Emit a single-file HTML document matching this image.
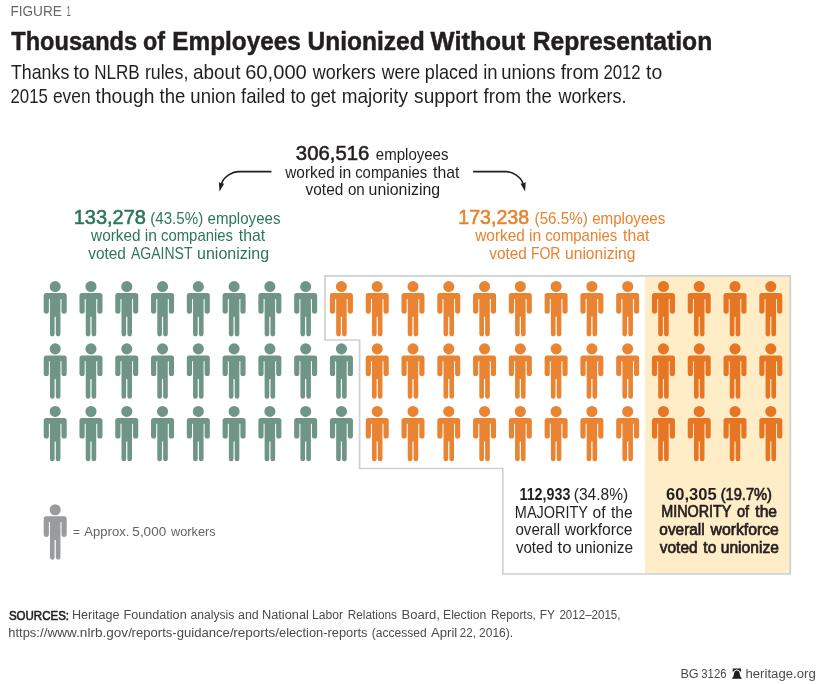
<!DOCTYPE html>
<html lang="en">
<head>
<meta charset="utf-8">
<title>Thousands of Employees Unionized Without Representation</title>
<style>
html,body{margin:0;padding:0;background:#fff;}
body{width:825px;height:684px;overflow:hidden;}
svg{display:block;}
text{font-family:"Liberation Sans", Arial, Helvetica, sans-serif;}
</style>
</head>
<body>
<svg width="825" height="684" viewBox="0 0 825 684">
<rect x="0" y="0" width="825" height="684" fill="#ffffff"/>
<!-- highlight -->
<rect x="645" y="275.8" width="145.3" height="298.2" fill="#ffedc8"/>
<!-- border -->
<path d="M325,275.8 H790.3 V574 H502.8 V468.5 H359.6 V340 H325 Z" fill="none" stroke="#ced0d1" stroke-width="1.7"/>
<!-- arrows -->
<g fill="none" stroke="#231f20" stroke-width="1.7">
<path d="M271.5,171.6 H238.6 C232.5,171.6 224,176.5 221.8,183 L221.4,184.6"/>
<path d="M473.1,171.6 H506 C512.1,171.6 520.6,176.5 522.8,183 L523.2,184.6"/>
</g>
<path d="M219.5,191.4 L218.9,182 L221.6,183.7 L224.2,183.4 Z" fill="#231f20"/>
<path d="M525.1,191.4 L525.7,182 L523,183.7 L520.4,183.4 Z" fill="#231f20"/>
<!-- icons -->
<path fill="#6e9585" d="M46.30,293.10h17.8a2.6,2.6 0 0 1 2.6,2.6v15.4a2.6,2.6 0 0 1-5.2,0v-12.2h-1.05v35.2a2.325,2.325 0 0 1-4.65,0v-17.4h-1.2v17.4a2.325,2.325 0 0 1-4.65,0v-35.2h-1.05v12.2a2.6,2.6 0 0 1-5.2,0v-15.4a2.6,2.6 0 0 1 2.6-2.6zM49.65,286.55a5.55,5.55 0 1 0 11.1,0a5.55,5.55 0 1 0-11.1,0z M82.08,293.10h17.8a2.6,2.6 0 0 1 2.6,2.6v15.4a2.6,2.6 0 0 1-5.2,0v-12.2h-1.05v35.2a2.325,2.325 0 0 1-4.65,0v-17.4h-1.2v17.4a2.325,2.325 0 0 1-4.65,0v-35.2h-1.05v12.2a2.6,2.6 0 0 1-5.2,0v-15.4a2.6,2.6 0 0 1 2.6-2.6zM85.43,286.55a5.55,5.55 0 1 0 11.1,0a5.55,5.55 0 1 0-11.1,0z M117.86,293.10h17.8a2.6,2.6 0 0 1 2.6,2.6v15.4a2.6,2.6 0 0 1-5.2,0v-12.2h-1.05v35.2a2.325,2.325 0 0 1-4.65,0v-17.4h-1.2v17.4a2.325,2.325 0 0 1-4.65,0v-35.2h-1.05v12.2a2.6,2.6 0 0 1-5.2,0v-15.4a2.6,2.6 0 0 1 2.6-2.6zM121.21,286.55a5.55,5.55 0 1 0 11.1,0a5.55,5.55 0 1 0-11.1,0z M153.64,293.10h17.8a2.6,2.6 0 0 1 2.6,2.6v15.4a2.6,2.6 0 0 1-5.2,0v-12.2h-1.05v35.2a2.325,2.325 0 0 1-4.65,0v-17.4h-1.2v17.4a2.325,2.325 0 0 1-4.65,0v-35.2h-1.05v12.2a2.6,2.6 0 0 1-5.2,0v-15.4a2.6,2.6 0 0 1 2.6-2.6zM156.99,286.55a5.55,5.55 0 1 0 11.1,0a5.55,5.55 0 1 0-11.1,0z M189.42,293.10h17.8a2.6,2.6 0 0 1 2.6,2.6v15.4a2.6,2.6 0 0 1-5.2,0v-12.2h-1.05v35.2a2.325,2.325 0 0 1-4.65,0v-17.4h-1.2v17.4a2.325,2.325 0 0 1-4.65,0v-35.2h-1.05v12.2a2.6,2.6 0 0 1-5.2,0v-15.4a2.6,2.6 0 0 1 2.6-2.6zM192.77,286.55a5.55,5.55 0 1 0 11.1,0a5.55,5.55 0 1 0-11.1,0z M225.20,293.10h17.8a2.6,2.6 0 0 1 2.6,2.6v15.4a2.6,2.6 0 0 1-5.2,0v-12.2h-1.05v35.2a2.325,2.325 0 0 1-4.65,0v-17.4h-1.2v17.4a2.325,2.325 0 0 1-4.65,0v-35.2h-1.05v12.2a2.6,2.6 0 0 1-5.2,0v-15.4a2.6,2.6 0 0 1 2.6-2.6zM228.55,286.55a5.55,5.55 0 1 0 11.1,0a5.55,5.55 0 1 0-11.1,0z M260.98,293.10h17.8a2.6,2.6 0 0 1 2.6,2.6v15.4a2.6,2.6 0 0 1-5.2,0v-12.2h-1.05v35.2a2.325,2.325 0 0 1-4.65,0v-17.4h-1.2v17.4a2.325,2.325 0 0 1-4.65,0v-35.2h-1.05v12.2a2.6,2.6 0 0 1-5.2,0v-15.4a2.6,2.6 0 0 1 2.6-2.6zM264.33,286.55a5.55,5.55 0 1 0 11.1,0a5.55,5.55 0 1 0-11.1,0z M296.76,293.10h17.8a2.6,2.6 0 0 1 2.6,2.6v15.4a2.6,2.6 0 0 1-5.2,0v-12.2h-1.05v35.2a2.325,2.325 0 0 1-4.65,0v-17.4h-1.2v17.4a2.325,2.325 0 0 1-4.65,0v-35.2h-1.05v12.2a2.6,2.6 0 0 1-5.2,0v-15.4a2.6,2.6 0 0 1 2.6-2.6zM300.11,286.55a5.55,5.55 0 1 0 11.1,0a5.55,5.55 0 1 0-11.1,0z M46.30,355.40h17.8a2.6,2.6 0 0 1 2.6,2.6v15.4a2.6,2.6 0 0 1-5.2,0v-12.2h-1.05v35.2a2.325,2.325 0 0 1-4.65,0v-17.4h-1.2v17.4a2.325,2.325 0 0 1-4.65,0v-35.2h-1.05v12.2a2.6,2.6 0 0 1-5.2,0v-15.4a2.6,2.6 0 0 1 2.6-2.6zM49.65,348.85a5.55,5.55 0 1 0 11.1,0a5.55,5.55 0 1 0-11.1,0z M82.08,355.40h17.8a2.6,2.6 0 0 1 2.6,2.6v15.4a2.6,2.6 0 0 1-5.2,0v-12.2h-1.05v35.2a2.325,2.325 0 0 1-4.65,0v-17.4h-1.2v17.4a2.325,2.325 0 0 1-4.65,0v-35.2h-1.05v12.2a2.6,2.6 0 0 1-5.2,0v-15.4a2.6,2.6 0 0 1 2.6-2.6zM85.43,348.85a5.55,5.55 0 1 0 11.1,0a5.55,5.55 0 1 0-11.1,0z M117.86,355.40h17.8a2.6,2.6 0 0 1 2.6,2.6v15.4a2.6,2.6 0 0 1-5.2,0v-12.2h-1.05v35.2a2.325,2.325 0 0 1-4.65,0v-17.4h-1.2v17.4a2.325,2.325 0 0 1-4.65,0v-35.2h-1.05v12.2a2.6,2.6 0 0 1-5.2,0v-15.4a2.6,2.6 0 0 1 2.6-2.6zM121.21,348.85a5.55,5.55 0 1 0 11.1,0a5.55,5.55 0 1 0-11.1,0z M153.64,355.40h17.8a2.6,2.6 0 0 1 2.6,2.6v15.4a2.6,2.6 0 0 1-5.2,0v-12.2h-1.05v35.2a2.325,2.325 0 0 1-4.65,0v-17.4h-1.2v17.4a2.325,2.325 0 0 1-4.65,0v-35.2h-1.05v12.2a2.6,2.6 0 0 1-5.2,0v-15.4a2.6,2.6 0 0 1 2.6-2.6zM156.99,348.85a5.55,5.55 0 1 0 11.1,0a5.55,5.55 0 1 0-11.1,0z M189.42,355.40h17.8a2.6,2.6 0 0 1 2.6,2.6v15.4a2.6,2.6 0 0 1-5.2,0v-12.2h-1.05v35.2a2.325,2.325 0 0 1-4.65,0v-17.4h-1.2v17.4a2.325,2.325 0 0 1-4.65,0v-35.2h-1.05v12.2a2.6,2.6 0 0 1-5.2,0v-15.4a2.6,2.6 0 0 1 2.6-2.6zM192.77,348.85a5.55,5.55 0 1 0 11.1,0a5.55,5.55 0 1 0-11.1,0z M225.20,355.40h17.8a2.6,2.6 0 0 1 2.6,2.6v15.4a2.6,2.6 0 0 1-5.2,0v-12.2h-1.05v35.2a2.325,2.325 0 0 1-4.65,0v-17.4h-1.2v17.4a2.325,2.325 0 0 1-4.65,0v-35.2h-1.05v12.2a2.6,2.6 0 0 1-5.2,0v-15.4a2.6,2.6 0 0 1 2.6-2.6zM228.55,348.85a5.55,5.55 0 1 0 11.1,0a5.55,5.55 0 1 0-11.1,0z M260.98,355.40h17.8a2.6,2.6 0 0 1 2.6,2.6v15.4a2.6,2.6 0 0 1-5.2,0v-12.2h-1.05v35.2a2.325,2.325 0 0 1-4.65,0v-17.4h-1.2v17.4a2.325,2.325 0 0 1-4.65,0v-35.2h-1.05v12.2a2.6,2.6 0 0 1-5.2,0v-15.4a2.6,2.6 0 0 1 2.6-2.6zM264.33,348.85a5.55,5.55 0 1 0 11.1,0a5.55,5.55 0 1 0-11.1,0z M296.76,355.40h17.8a2.6,2.6 0 0 1 2.6,2.6v15.4a2.6,2.6 0 0 1-5.2,0v-12.2h-1.05v35.2a2.325,2.325 0 0 1-4.65,0v-17.4h-1.2v17.4a2.325,2.325 0 0 1-4.65,0v-35.2h-1.05v12.2a2.6,2.6 0 0 1-5.2,0v-15.4a2.6,2.6 0 0 1 2.6-2.6zM300.11,348.85a5.55,5.55 0 1 0 11.1,0a5.55,5.55 0 1 0-11.1,0z M332.54,355.40h17.8a2.6,2.6 0 0 1 2.6,2.6v15.4a2.6,2.6 0 0 1-5.2,0v-12.2h-1.05v35.2a2.325,2.325 0 0 1-4.65,0v-17.4h-1.2v17.4a2.325,2.325 0 0 1-4.65,0v-35.2h-1.05v12.2a2.6,2.6 0 0 1-5.2,0v-15.4a2.6,2.6 0 0 1 2.6-2.6zM335.89,348.85a5.55,5.55 0 1 0 11.1,0a5.55,5.55 0 1 0-11.1,0z M46.30,418.00h17.8a2.6,2.6 0 0 1 2.6,2.6v15.4a2.6,2.6 0 0 1-5.2,0v-12.2h-1.05v35.2a2.325,2.325 0 0 1-4.65,0v-17.4h-1.2v17.4a2.325,2.325 0 0 1-4.65,0v-35.2h-1.05v12.2a2.6,2.6 0 0 1-5.2,0v-15.4a2.6,2.6 0 0 1 2.6-2.6zM49.65,411.45a5.55,5.55 0 1 0 11.1,0a5.55,5.55 0 1 0-11.1,0z M82.08,418.00h17.8a2.6,2.6 0 0 1 2.6,2.6v15.4a2.6,2.6 0 0 1-5.2,0v-12.2h-1.05v35.2a2.325,2.325 0 0 1-4.65,0v-17.4h-1.2v17.4a2.325,2.325 0 0 1-4.65,0v-35.2h-1.05v12.2a2.6,2.6 0 0 1-5.2,0v-15.4a2.6,2.6 0 0 1 2.6-2.6zM85.43,411.45a5.55,5.55 0 1 0 11.1,0a5.55,5.55 0 1 0-11.1,0z M117.86,418.00h17.8a2.6,2.6 0 0 1 2.6,2.6v15.4a2.6,2.6 0 0 1-5.2,0v-12.2h-1.05v35.2a2.325,2.325 0 0 1-4.65,0v-17.4h-1.2v17.4a2.325,2.325 0 0 1-4.65,0v-35.2h-1.05v12.2a2.6,2.6 0 0 1-5.2,0v-15.4a2.6,2.6 0 0 1 2.6-2.6zM121.21,411.45a5.55,5.55 0 1 0 11.1,0a5.55,5.55 0 1 0-11.1,0z M153.64,418.00h17.8a2.6,2.6 0 0 1 2.6,2.6v15.4a2.6,2.6 0 0 1-5.2,0v-12.2h-1.05v35.2a2.325,2.325 0 0 1-4.65,0v-17.4h-1.2v17.4a2.325,2.325 0 0 1-4.65,0v-35.2h-1.05v12.2a2.6,2.6 0 0 1-5.2,0v-15.4a2.6,2.6 0 0 1 2.6-2.6zM156.99,411.45a5.55,5.55 0 1 0 11.1,0a5.55,5.55 0 1 0-11.1,0z M189.42,418.00h17.8a2.6,2.6 0 0 1 2.6,2.6v15.4a2.6,2.6 0 0 1-5.2,0v-12.2h-1.05v35.2a2.325,2.325 0 0 1-4.65,0v-17.4h-1.2v17.4a2.325,2.325 0 0 1-4.65,0v-35.2h-1.05v12.2a2.6,2.6 0 0 1-5.2,0v-15.4a2.6,2.6 0 0 1 2.6-2.6zM192.77,411.45a5.55,5.55 0 1 0 11.1,0a5.55,5.55 0 1 0-11.1,0z M225.20,418.00h17.8a2.6,2.6 0 0 1 2.6,2.6v15.4a2.6,2.6 0 0 1-5.2,0v-12.2h-1.05v35.2a2.325,2.325 0 0 1-4.65,0v-17.4h-1.2v17.4a2.325,2.325 0 0 1-4.65,0v-35.2h-1.05v12.2a2.6,2.6 0 0 1-5.2,0v-15.4a2.6,2.6 0 0 1 2.6-2.6zM228.55,411.45a5.55,5.55 0 1 0 11.1,0a5.55,5.55 0 1 0-11.1,0z M260.98,418.00h17.8a2.6,2.6 0 0 1 2.6,2.6v15.4a2.6,2.6 0 0 1-5.2,0v-12.2h-1.05v35.2a2.325,2.325 0 0 1-4.65,0v-17.4h-1.2v17.4a2.325,2.325 0 0 1-4.65,0v-35.2h-1.05v12.2a2.6,2.6 0 0 1-5.2,0v-15.4a2.6,2.6 0 0 1 2.6-2.6zM264.33,411.45a5.55,5.55 0 1 0 11.1,0a5.55,5.55 0 1 0-11.1,0z M296.76,418.00h17.8a2.6,2.6 0 0 1 2.6,2.6v15.4a2.6,2.6 0 0 1-5.2,0v-12.2h-1.05v35.2a2.325,2.325 0 0 1-4.65,0v-17.4h-1.2v17.4a2.325,2.325 0 0 1-4.65,0v-35.2h-1.05v12.2a2.6,2.6 0 0 1-5.2,0v-15.4a2.6,2.6 0 0 1 2.6-2.6zM300.11,411.45a5.55,5.55 0 1 0 11.1,0a5.55,5.55 0 1 0-11.1,0z M332.54,418.00h17.8a2.6,2.6 0 0 1 2.6,2.6v15.4a2.6,2.6 0 0 1-5.2,0v-12.2h-1.05v35.2a2.325,2.325 0 0 1-4.65,0v-17.4h-1.2v17.4a2.325,2.325 0 0 1-4.65,0v-35.2h-1.05v12.2a2.6,2.6 0 0 1-5.2,0v-15.4a2.6,2.6 0 0 1 2.6-2.6zM335.89,411.45a5.55,5.55 0 1 0 11.1,0a5.55,5.55 0 1 0-11.1,0z"/>
<path fill="#e98433" d="M332.54,293.10h17.8a2.6,2.6 0 0 1 2.6,2.6v15.4a2.6,2.6 0 0 1-5.2,0v-12.2h-1.05v35.2a2.325,2.325 0 0 1-4.65,0v-17.4h-1.2v17.4a2.325,2.325 0 0 1-4.65,0v-35.2h-1.05v12.2a2.6,2.6 0 0 1-5.2,0v-15.4a2.6,2.6 0 0 1 2.6-2.6zM335.89,286.55a5.55,5.55 0 1 0 11.1,0a5.55,5.55 0 1 0-11.1,0z M368.32,293.10h17.8a2.6,2.6 0 0 1 2.6,2.6v15.4a2.6,2.6 0 0 1-5.2,0v-12.2h-1.05v35.2a2.325,2.325 0 0 1-4.65,0v-17.4h-1.2v17.4a2.325,2.325 0 0 1-4.65,0v-35.2h-1.05v12.2a2.6,2.6 0 0 1-5.2,0v-15.4a2.6,2.6 0 0 1 2.6-2.6zM371.67,286.55a5.55,5.55 0 1 0 11.1,0a5.55,5.55 0 1 0-11.1,0z M404.10,293.10h17.8a2.6,2.6 0 0 1 2.6,2.6v15.4a2.6,2.6 0 0 1-5.2,0v-12.2h-1.05v35.2a2.325,2.325 0 0 1-4.65,0v-17.4h-1.2v17.4a2.325,2.325 0 0 1-4.65,0v-35.2h-1.05v12.2a2.6,2.6 0 0 1-5.2,0v-15.4a2.6,2.6 0 0 1 2.6-2.6zM407.45,286.55a5.55,5.55 0 1 0 11.1,0a5.55,5.55 0 1 0-11.1,0z M439.88,293.10h17.8a2.6,2.6 0 0 1 2.6,2.6v15.4a2.6,2.6 0 0 1-5.2,0v-12.2h-1.05v35.2a2.325,2.325 0 0 1-4.65,0v-17.4h-1.2v17.4a2.325,2.325 0 0 1-4.65,0v-35.2h-1.05v12.2a2.6,2.6 0 0 1-5.2,0v-15.4a2.6,2.6 0 0 1 2.6-2.6zM443.23,286.55a5.55,5.55 0 1 0 11.1,0a5.55,5.55 0 1 0-11.1,0z M475.66,293.10h17.8a2.6,2.6 0 0 1 2.6,2.6v15.4a2.6,2.6 0 0 1-5.2,0v-12.2h-1.05v35.2a2.325,2.325 0 0 1-4.65,0v-17.4h-1.2v17.4a2.325,2.325 0 0 1-4.65,0v-35.2h-1.05v12.2a2.6,2.6 0 0 1-5.2,0v-15.4a2.6,2.6 0 0 1 2.6-2.6zM479.01,286.55a5.55,5.55 0 1 0 11.1,0a5.55,5.55 0 1 0-11.1,0z M511.44,293.10h17.8a2.6,2.6 0 0 1 2.6,2.6v15.4a2.6,2.6 0 0 1-5.2,0v-12.2h-1.05v35.2a2.325,2.325 0 0 1-4.65,0v-17.4h-1.2v17.4a2.325,2.325 0 0 1-4.65,0v-35.2h-1.05v12.2a2.6,2.6 0 0 1-5.2,0v-15.4a2.6,2.6 0 0 1 2.6-2.6zM514.79,286.55a5.55,5.55 0 1 0 11.1,0a5.55,5.55 0 1 0-11.1,0z M547.22,293.10h17.8a2.6,2.6 0 0 1 2.6,2.6v15.4a2.6,2.6 0 0 1-5.2,0v-12.2h-1.05v35.2a2.325,2.325 0 0 1-4.65,0v-17.4h-1.2v17.4a2.325,2.325 0 0 1-4.65,0v-35.2h-1.05v12.2a2.6,2.6 0 0 1-5.2,0v-15.4a2.6,2.6 0 0 1 2.6-2.6zM550.57,286.55a5.55,5.55 0 1 0 11.1,0a5.55,5.55 0 1 0-11.1,0z M583.00,293.10h17.8a2.6,2.6 0 0 1 2.6,2.6v15.4a2.6,2.6 0 0 1-5.2,0v-12.2h-1.05v35.2a2.325,2.325 0 0 1-4.65,0v-17.4h-1.2v17.4a2.325,2.325 0 0 1-4.65,0v-35.2h-1.05v12.2a2.6,2.6 0 0 1-5.2,0v-15.4a2.6,2.6 0 0 1 2.6-2.6zM586.35,286.55a5.55,5.55 0 1 0 11.1,0a5.55,5.55 0 1 0-11.1,0z M618.78,293.10h17.8a2.6,2.6 0 0 1 2.6,2.6v15.4a2.6,2.6 0 0 1-5.2,0v-12.2h-1.05v35.2a2.325,2.325 0 0 1-4.65,0v-17.4h-1.2v17.4a2.325,2.325 0 0 1-4.65,0v-35.2h-1.05v12.2a2.6,2.6 0 0 1-5.2,0v-15.4a2.6,2.6 0 0 1 2.6-2.6zM622.13,286.55a5.55,5.55 0 1 0 11.1,0a5.55,5.55 0 1 0-11.1,0z M368.32,355.40h17.8a2.6,2.6 0 0 1 2.6,2.6v15.4a2.6,2.6 0 0 1-5.2,0v-12.2h-1.05v35.2a2.325,2.325 0 0 1-4.65,0v-17.4h-1.2v17.4a2.325,2.325 0 0 1-4.65,0v-35.2h-1.05v12.2a2.6,2.6 0 0 1-5.2,0v-15.4a2.6,2.6 0 0 1 2.6-2.6zM371.67,348.85a5.55,5.55 0 1 0 11.1,0a5.55,5.55 0 1 0-11.1,0z M404.10,355.40h17.8a2.6,2.6 0 0 1 2.6,2.6v15.4a2.6,2.6 0 0 1-5.2,0v-12.2h-1.05v35.2a2.325,2.325 0 0 1-4.65,0v-17.4h-1.2v17.4a2.325,2.325 0 0 1-4.65,0v-35.2h-1.05v12.2a2.6,2.6 0 0 1-5.2,0v-15.4a2.6,2.6 0 0 1 2.6-2.6zM407.45,348.85a5.55,5.55 0 1 0 11.1,0a5.55,5.55 0 1 0-11.1,0z M439.88,355.40h17.8a2.6,2.6 0 0 1 2.6,2.6v15.4a2.6,2.6 0 0 1-5.2,0v-12.2h-1.05v35.2a2.325,2.325 0 0 1-4.65,0v-17.4h-1.2v17.4a2.325,2.325 0 0 1-4.65,0v-35.2h-1.05v12.2a2.6,2.6 0 0 1-5.2,0v-15.4a2.6,2.6 0 0 1 2.6-2.6zM443.23,348.85a5.55,5.55 0 1 0 11.1,0a5.55,5.55 0 1 0-11.1,0z M475.66,355.40h17.8a2.6,2.6 0 0 1 2.6,2.6v15.4a2.6,2.6 0 0 1-5.2,0v-12.2h-1.05v35.2a2.325,2.325 0 0 1-4.65,0v-17.4h-1.2v17.4a2.325,2.325 0 0 1-4.65,0v-35.2h-1.05v12.2a2.6,2.6 0 0 1-5.2,0v-15.4a2.6,2.6 0 0 1 2.6-2.6zM479.01,348.85a5.55,5.55 0 1 0 11.1,0a5.55,5.55 0 1 0-11.1,0z M511.44,355.40h17.8a2.6,2.6 0 0 1 2.6,2.6v15.4a2.6,2.6 0 0 1-5.2,0v-12.2h-1.05v35.2a2.325,2.325 0 0 1-4.65,0v-17.4h-1.2v17.4a2.325,2.325 0 0 1-4.65,0v-35.2h-1.05v12.2a2.6,2.6 0 0 1-5.2,0v-15.4a2.6,2.6 0 0 1 2.6-2.6zM514.79,348.85a5.55,5.55 0 1 0 11.1,0a5.55,5.55 0 1 0-11.1,0z M547.22,355.40h17.8a2.6,2.6 0 0 1 2.6,2.6v15.4a2.6,2.6 0 0 1-5.2,0v-12.2h-1.05v35.2a2.325,2.325 0 0 1-4.65,0v-17.4h-1.2v17.4a2.325,2.325 0 0 1-4.65,0v-35.2h-1.05v12.2a2.6,2.6 0 0 1-5.2,0v-15.4a2.6,2.6 0 0 1 2.6-2.6zM550.57,348.85a5.55,5.55 0 1 0 11.1,0a5.55,5.55 0 1 0-11.1,0z M583.00,355.40h17.8a2.6,2.6 0 0 1 2.6,2.6v15.4a2.6,2.6 0 0 1-5.2,0v-12.2h-1.05v35.2a2.325,2.325 0 0 1-4.65,0v-17.4h-1.2v17.4a2.325,2.325 0 0 1-4.65,0v-35.2h-1.05v12.2a2.6,2.6 0 0 1-5.2,0v-15.4a2.6,2.6 0 0 1 2.6-2.6zM586.35,348.85a5.55,5.55 0 1 0 11.1,0a5.55,5.55 0 1 0-11.1,0z M618.78,355.40h17.8a2.6,2.6 0 0 1 2.6,2.6v15.4a2.6,2.6 0 0 1-5.2,0v-12.2h-1.05v35.2a2.325,2.325 0 0 1-4.65,0v-17.4h-1.2v17.4a2.325,2.325 0 0 1-4.65,0v-35.2h-1.05v12.2a2.6,2.6 0 0 1-5.2,0v-15.4a2.6,2.6 0 0 1 2.6-2.6zM622.13,348.85a5.55,5.55 0 1 0 11.1,0a5.55,5.55 0 1 0-11.1,0z M368.32,418.00h17.8a2.6,2.6 0 0 1 2.6,2.6v15.4a2.6,2.6 0 0 1-5.2,0v-12.2h-1.05v35.2a2.325,2.325 0 0 1-4.65,0v-17.4h-1.2v17.4a2.325,2.325 0 0 1-4.65,0v-35.2h-1.05v12.2a2.6,2.6 0 0 1-5.2,0v-15.4a2.6,2.6 0 0 1 2.6-2.6zM371.67,411.45a5.55,5.55 0 1 0 11.1,0a5.55,5.55 0 1 0-11.1,0z M404.10,418.00h17.8a2.6,2.6 0 0 1 2.6,2.6v15.4a2.6,2.6 0 0 1-5.2,0v-12.2h-1.05v35.2a2.325,2.325 0 0 1-4.65,0v-17.4h-1.2v17.4a2.325,2.325 0 0 1-4.65,0v-35.2h-1.05v12.2a2.6,2.6 0 0 1-5.2,0v-15.4a2.6,2.6 0 0 1 2.6-2.6zM407.45,411.45a5.55,5.55 0 1 0 11.1,0a5.55,5.55 0 1 0-11.1,0z M439.88,418.00h17.8a2.6,2.6 0 0 1 2.6,2.6v15.4a2.6,2.6 0 0 1-5.2,0v-12.2h-1.05v35.2a2.325,2.325 0 0 1-4.65,0v-17.4h-1.2v17.4a2.325,2.325 0 0 1-4.65,0v-35.2h-1.05v12.2a2.6,2.6 0 0 1-5.2,0v-15.4a2.6,2.6 0 0 1 2.6-2.6zM443.23,411.45a5.55,5.55 0 1 0 11.1,0a5.55,5.55 0 1 0-11.1,0z M475.66,418.00h17.8a2.6,2.6 0 0 1 2.6,2.6v15.4a2.6,2.6 0 0 1-5.2,0v-12.2h-1.05v35.2a2.325,2.325 0 0 1-4.65,0v-17.4h-1.2v17.4a2.325,2.325 0 0 1-4.65,0v-35.2h-1.05v12.2a2.6,2.6 0 0 1-5.2,0v-15.4a2.6,2.6 0 0 1 2.6-2.6zM479.01,411.45a5.55,5.55 0 1 0 11.1,0a5.55,5.55 0 1 0-11.1,0z M511.44,418.00h17.8a2.6,2.6 0 0 1 2.6,2.6v15.4a2.6,2.6 0 0 1-5.2,0v-12.2h-1.05v35.2a2.325,2.325 0 0 1-4.65,0v-17.4h-1.2v17.4a2.325,2.325 0 0 1-4.65,0v-35.2h-1.05v12.2a2.6,2.6 0 0 1-5.2,0v-15.4a2.6,2.6 0 0 1 2.6-2.6zM514.79,411.45a5.55,5.55 0 1 0 11.1,0a5.55,5.55 0 1 0-11.1,0z M547.22,418.00h17.8a2.6,2.6 0 0 1 2.6,2.6v15.4a2.6,2.6 0 0 1-5.2,0v-12.2h-1.05v35.2a2.325,2.325 0 0 1-4.65,0v-17.4h-1.2v17.4a2.325,2.325 0 0 1-4.65,0v-35.2h-1.05v12.2a2.6,2.6 0 0 1-5.2,0v-15.4a2.6,2.6 0 0 1 2.6-2.6zM550.57,411.45a5.55,5.55 0 1 0 11.1,0a5.55,5.55 0 1 0-11.1,0z M583.00,418.00h17.8a2.6,2.6 0 0 1 2.6,2.6v15.4a2.6,2.6 0 0 1-5.2,0v-12.2h-1.05v35.2a2.325,2.325 0 0 1-4.65,0v-17.4h-1.2v17.4a2.325,2.325 0 0 1-4.65,0v-35.2h-1.05v12.2a2.6,2.6 0 0 1-5.2,0v-15.4a2.6,2.6 0 0 1 2.6-2.6zM586.35,411.45a5.55,5.55 0 1 0 11.1,0a5.55,5.55 0 1 0-11.1,0z M618.78,418.00h17.8a2.6,2.6 0 0 1 2.6,2.6v15.4a2.6,2.6 0 0 1-5.2,0v-12.2h-1.05v35.2a2.325,2.325 0 0 1-4.65,0v-17.4h-1.2v17.4a2.325,2.325 0 0 1-4.65,0v-35.2h-1.05v12.2a2.6,2.6 0 0 1-5.2,0v-15.4a2.6,2.6 0 0 1 2.6-2.6zM622.13,411.45a5.55,5.55 0 1 0 11.1,0a5.55,5.55 0 1 0-11.1,0z"/>
<path fill="#e67524" d="M654.56,293.10h17.8a2.6,2.6 0 0 1 2.6,2.6v15.4a2.6,2.6 0 0 1-5.2,0v-12.2h-1.05v35.2a2.325,2.325 0 0 1-4.65,0v-17.4h-1.2v17.4a2.325,2.325 0 0 1-4.65,0v-35.2h-1.05v12.2a2.6,2.6 0 0 1-5.2,0v-15.4a2.6,2.6 0 0 1 2.6-2.6zM657.91,286.55a5.55,5.55 0 1 0 11.1,0a5.55,5.55 0 1 0-11.1,0z M690.34,293.10h17.8a2.6,2.6 0 0 1 2.6,2.6v15.4a2.6,2.6 0 0 1-5.2,0v-12.2h-1.05v35.2a2.325,2.325 0 0 1-4.65,0v-17.4h-1.2v17.4a2.325,2.325 0 0 1-4.65,0v-35.2h-1.05v12.2a2.6,2.6 0 0 1-5.2,0v-15.4a2.6,2.6 0 0 1 2.6-2.6zM693.69,286.55a5.55,5.55 0 1 0 11.1,0a5.55,5.55 0 1 0-11.1,0z M726.12,293.10h17.8a2.6,2.6 0 0 1 2.6,2.6v15.4a2.6,2.6 0 0 1-5.2,0v-12.2h-1.05v35.2a2.325,2.325 0 0 1-4.65,0v-17.4h-1.2v17.4a2.325,2.325 0 0 1-4.65,0v-35.2h-1.05v12.2a2.6,2.6 0 0 1-5.2,0v-15.4a2.6,2.6 0 0 1 2.6-2.6zM729.47,286.55a5.55,5.55 0 1 0 11.1,0a5.55,5.55 0 1 0-11.1,0z M761.90,293.10h17.8a2.6,2.6 0 0 1 2.6,2.6v15.4a2.6,2.6 0 0 1-5.2,0v-12.2h-1.05v35.2a2.325,2.325 0 0 1-4.65,0v-17.4h-1.2v17.4a2.325,2.325 0 0 1-4.65,0v-35.2h-1.05v12.2a2.6,2.6 0 0 1-5.2,0v-15.4a2.6,2.6 0 0 1 2.6-2.6zM765.25,286.55a5.55,5.55 0 1 0 11.1,0a5.55,5.55 0 1 0-11.1,0z M654.56,355.40h17.8a2.6,2.6 0 0 1 2.6,2.6v15.4a2.6,2.6 0 0 1-5.2,0v-12.2h-1.05v35.2a2.325,2.325 0 0 1-4.65,0v-17.4h-1.2v17.4a2.325,2.325 0 0 1-4.65,0v-35.2h-1.05v12.2a2.6,2.6 0 0 1-5.2,0v-15.4a2.6,2.6 0 0 1 2.6-2.6zM657.91,348.85a5.55,5.55 0 1 0 11.1,0a5.55,5.55 0 1 0-11.1,0z M690.34,355.40h17.8a2.6,2.6 0 0 1 2.6,2.6v15.4a2.6,2.6 0 0 1-5.2,0v-12.2h-1.05v35.2a2.325,2.325 0 0 1-4.65,0v-17.4h-1.2v17.4a2.325,2.325 0 0 1-4.65,0v-35.2h-1.05v12.2a2.6,2.6 0 0 1-5.2,0v-15.4a2.6,2.6 0 0 1 2.6-2.6zM693.69,348.85a5.55,5.55 0 1 0 11.1,0a5.55,5.55 0 1 0-11.1,0z M726.12,355.40h17.8a2.6,2.6 0 0 1 2.6,2.6v15.4a2.6,2.6 0 0 1-5.2,0v-12.2h-1.05v35.2a2.325,2.325 0 0 1-4.65,0v-17.4h-1.2v17.4a2.325,2.325 0 0 1-4.65,0v-35.2h-1.05v12.2a2.6,2.6 0 0 1-5.2,0v-15.4a2.6,2.6 0 0 1 2.6-2.6zM729.47,348.85a5.55,5.55 0 1 0 11.1,0a5.55,5.55 0 1 0-11.1,0z M761.90,355.40h17.8a2.6,2.6 0 0 1 2.6,2.6v15.4a2.6,2.6 0 0 1-5.2,0v-12.2h-1.05v35.2a2.325,2.325 0 0 1-4.65,0v-17.4h-1.2v17.4a2.325,2.325 0 0 1-4.65,0v-35.2h-1.05v12.2a2.6,2.6 0 0 1-5.2,0v-15.4a2.6,2.6 0 0 1 2.6-2.6zM765.25,348.85a5.55,5.55 0 1 0 11.1,0a5.55,5.55 0 1 0-11.1,0z M654.56,418.00h17.8a2.6,2.6 0 0 1 2.6,2.6v15.4a2.6,2.6 0 0 1-5.2,0v-12.2h-1.05v35.2a2.325,2.325 0 0 1-4.65,0v-17.4h-1.2v17.4a2.325,2.325 0 0 1-4.65,0v-35.2h-1.05v12.2a2.6,2.6 0 0 1-5.2,0v-15.4a2.6,2.6 0 0 1 2.6-2.6zM657.91,411.45a5.55,5.55 0 1 0 11.1,0a5.55,5.55 0 1 0-11.1,0z M690.34,418.00h17.8a2.6,2.6 0 0 1 2.6,2.6v15.4a2.6,2.6 0 0 1-5.2,0v-12.2h-1.05v35.2a2.325,2.325 0 0 1-4.65,0v-17.4h-1.2v17.4a2.325,2.325 0 0 1-4.65,0v-35.2h-1.05v12.2a2.6,2.6 0 0 1-5.2,0v-15.4a2.6,2.6 0 0 1 2.6-2.6zM693.69,411.45a5.55,5.55 0 1 0 11.1,0a5.55,5.55 0 1 0-11.1,0z M726.12,418.00h17.8a2.6,2.6 0 0 1 2.6,2.6v15.4a2.6,2.6 0 0 1-5.2,0v-12.2h-1.05v35.2a2.325,2.325 0 0 1-4.65,0v-17.4h-1.2v17.4a2.325,2.325 0 0 1-4.65,0v-35.2h-1.05v12.2a2.6,2.6 0 0 1-5.2,0v-15.4a2.6,2.6 0 0 1 2.6-2.6zM729.47,411.45a5.55,5.55 0 1 0 11.1,0a5.55,5.55 0 1 0-11.1,0z M761.90,418.00h17.8a2.6,2.6 0 0 1 2.6,2.6v15.4a2.6,2.6 0 0 1-5.2,0v-12.2h-1.05v35.2a2.325,2.325 0 0 1-4.65,0v-17.4h-1.2v17.4a2.325,2.325 0 0 1-4.65,0v-35.2h-1.05v12.2a2.6,2.6 0 0 1-5.2,0v-15.4a2.6,2.6 0 0 1 2.6-2.6zM765.25,411.45a5.55,5.55 0 1 0 11.1,0a5.55,5.55 0 1 0-11.1,0z"/>
<path fill="#9a9b9d" d="M46.30,516.30h17.8a2.6,2.6 0 0 1 2.6,2.6v15.4a2.6,2.6 0 0 1-5.2,0v-12.2h-1.05v35.2a2.325,2.325 0 0 1-4.65,0v-17.4h-1.2v17.4a2.325,2.325 0 0 1-4.65,0v-35.2h-1.05v12.2a2.6,2.6 0 0 1-5.2,0v-15.4a2.6,2.6 0 0 1 2.6-2.6zM49.65,509.75a5.55,5.55 0 1 0 11.1,0a5.55,5.55 0 1 0-11.1,0z"/>
<!-- bell -->
<g fill="#231f20">
<path d="M732.7,668.5 H741 V672 Q736.85,666.9 732.7,672 Z"/>
<path d="M733.4,676.6 L734.2,672.8 Q734.4,671.7 735.3,671 Q736.85,670 738.4,671 Q739.3,671.7 739.5,672.8 L740.3,676.6 L741.7,677.9 V678.7 H732.2 V677.9 Z"/>
</g>
<!-- text -->
<text y="15.8" font-size="14.2" fill="#66676a"><tspan x="10.44" textLength="51.44" lengthAdjust="spacingAndGlyphs">FIGURE</tspan> <tspan x="66.42" textLength="4.30" lengthAdjust="spacingAndGlyphs">1</tspan></text>
<text y="50.4" font-size="26.7" fill="#231f20" font-weight="bold" stroke="#231f20" stroke-width="0.5"><tspan x="11.25" textLength="125.86" lengthAdjust="spacingAndGlyphs">Thousands</tspan> <tspan x="143.12" textLength="21.98" lengthAdjust="spacingAndGlyphs">of</tspan> <tspan x="172.33" textLength="128.41" lengthAdjust="spacingAndGlyphs">Employees</tspan> <tspan x="307.50" textLength="117.12" lengthAdjust="spacingAndGlyphs">Unionized</tspan> <tspan x="430.55" textLength="94.62" lengthAdjust="spacingAndGlyphs">Without</tspan> <tspan x="532.71" textLength="179.53" lengthAdjust="spacingAndGlyphs">Representation</tspan></text>
<text y="79.1" font-size="19.8" fill="#231f20"><tspan x="10.92" textLength="58.44" lengthAdjust="spacingAndGlyphs">Thanks</tspan> <tspan x="73.50" textLength="16.08" lengthAdjust="spacingAndGlyphs">to</tspan> <tspan x="94.27" textLength="45.45" lengthAdjust="spacingAndGlyphs">NLRB</tspan> <tspan x="144.89" textLength="43.44" lengthAdjust="spacingAndGlyphs">rules,</tspan> <tspan x="193.01" textLength="47.43" lengthAdjust="spacingAndGlyphs">about</tspan> <tspan x="245.16" textLength="61.65" lengthAdjust="spacingAndGlyphs">60,000</tspan> <tspan x="312.78" textLength="62.98" lengthAdjust="spacingAndGlyphs">workers</tspan> <tspan x="381.68" textLength="38.54" lengthAdjust="spacingAndGlyphs">were</tspan> <tspan x="424.87" textLength="53.14" lengthAdjust="spacingAndGlyphs">placed</tspan> <tspan x="483.24" textLength="14.39" lengthAdjust="spacingAndGlyphs">in</tspan> <tspan x="501.25" textLength="54.33" lengthAdjust="spacingAndGlyphs">unions</tspan> <tspan x="560.70" textLength="38.39" lengthAdjust="spacingAndGlyphs">from</tspan> <tspan x="603.41" textLength="37.26" lengthAdjust="spacingAndGlyphs">2012</tspan> <tspan x="646.00" textLength="16.19" lengthAdjust="spacingAndGlyphs">to</tspan></text>
<text y="102.6" font-size="19.8" fill="#231f20"><tspan x="10.51" textLength="37.37" lengthAdjust="spacingAndGlyphs">2015</tspan> <tspan x="52.96" textLength="37.62" lengthAdjust="spacingAndGlyphs">even</tspan> <tspan x="95.60" textLength="58.78" lengthAdjust="spacingAndGlyphs">though</tspan> <tspan x="159.60" textLength="25.75" lengthAdjust="spacingAndGlyphs">the</tspan> <tspan x="190.34" textLength="45.40" lengthAdjust="spacingAndGlyphs">union</tspan> <tspan x="241.00" textLength="44.24" lengthAdjust="spacingAndGlyphs">failed</tspan> <tspan x="290.40" textLength="15.35" lengthAdjust="spacingAndGlyphs">to</tspan> <tspan x="310.43" textLength="25.51" lengthAdjust="spacingAndGlyphs">get</tspan> <tspan x="341.82" textLength="66.18" lengthAdjust="spacingAndGlyphs">majority</tspan> <tspan x="414.10" textLength="63.63" lengthAdjust="spacingAndGlyphs">support</tspan> <tspan x="483.60" textLength="37.37" lengthAdjust="spacingAndGlyphs">from</tspan> <tspan x="526.00" textLength="25.75" lengthAdjust="spacingAndGlyphs">the</tspan> <tspan x="558.48" textLength="67.94" lengthAdjust="spacingAndGlyphs">workers.</tspan></text>
<text x="295.86" y="160.2" font-size="20.7" fill="#231f20" stroke="#231f20" stroke-width="0.6" textLength="73.46" lengthAdjust="spacingAndGlyphs">306,516</text>
<text x="375.83" y="160.0" font-size="16.1" fill="#231f20" textLength="72.64" lengthAdjust="spacingAndGlyphs">employees</text>
<text y="177.7" font-size="16.1" fill="#231f20"><tspan x="285.24" textLength="49.62" lengthAdjust="spacingAndGlyphs">worked</tspan> <tspan x="338.91" textLength="12.27" lengthAdjust="spacingAndGlyphs">in</tspan> <tspan x="355.13" textLength="72.13" lengthAdjust="spacingAndGlyphs">companies</tspan> <tspan x="433.00" textLength="26.35" lengthAdjust="spacingAndGlyphs">that</tspan></text>
<text y="195.2" font-size="16.1" fill="#231f20"><tspan x="305.60" textLength="37.66" lengthAdjust="spacingAndGlyphs">voted</tspan> <tspan x="347.93" textLength="16.82" lengthAdjust="spacingAndGlyphs">on</tspan> <tspan x="368.61" textLength="71.48" lengthAdjust="spacingAndGlyphs">unionizing</tspan></text>
<text x="73.65" y="223.8" font-size="20.7" fill="#2d7659" stroke="#2d7659" stroke-width="0.6" textLength="72.26" lengthAdjust="spacingAndGlyphs">133,278</text>
<text y="223.7" font-size="16.1" fill="#2d7659"><tspan x="150.29" textLength="52.89" lengthAdjust="spacingAndGlyphs">(43.5%)</tspan> <tspan x="207.53" textLength="72.94" lengthAdjust="spacingAndGlyphs">employees</tspan></text>
<text y="241.3" font-size="16.1" fill="#2d7659"><tspan x="91.04" textLength="49.62" lengthAdjust="spacingAndGlyphs">worked</tspan> <tspan x="144.71" textLength="12.27" lengthAdjust="spacingAndGlyphs">in</tspan> <tspan x="160.93" textLength="72.13" lengthAdjust="spacingAndGlyphs">companies</tspan> <tspan x="238.80" textLength="26.35" lengthAdjust="spacingAndGlyphs">that</tspan></text>
<text y="259.4" font-size="16.1" fill="#2d7659"><tspan x="88.20" textLength="37.66" lengthAdjust="spacingAndGlyphs">voted</tspan> <tspan x="131.00" textLength="61.24" lengthAdjust="spacingAndGlyphs">AGAINST</tspan> <tspan x="197.00" textLength="72.20" lengthAdjust="spacingAndGlyphs">unionizing</tspan></text>
<text x="458.28" y="223.8" font-size="20.7" fill="#e8822f" stroke="#e8822f" stroke-width="0.6" textLength="70.82" lengthAdjust="spacingAndGlyphs">173,238</text>
<text y="223.7" font-size="16.1" fill="#e8822f"><tspan x="534.59" textLength="53.20" lengthAdjust="spacingAndGlyphs">(56.5%)</tspan> <tspan x="592.13" textLength="73.25" lengthAdjust="spacingAndGlyphs">employees</tspan></text>
<text y="241.3" font-size="16.1" fill="#e8822f"><tspan x="475.24" textLength="49.62" lengthAdjust="spacingAndGlyphs">worked</tspan> <tspan x="528.91" textLength="12.27" lengthAdjust="spacingAndGlyphs">in</tspan> <tspan x="545.13" textLength="72.13" lengthAdjust="spacingAndGlyphs">companies</tspan> <tspan x="623.00" textLength="26.35" lengthAdjust="spacingAndGlyphs">that</tspan></text>
<text y="259.4" font-size="16.1" fill="#e8822f"><tspan x="489.20" textLength="37.66" lengthAdjust="spacingAndGlyphs">voted</tspan> <tspan x="530.91" textLength="29.58" lengthAdjust="spacingAndGlyphs">FOR</tspan> <tspan x="565.02" textLength="70.35" lengthAdjust="spacingAndGlyphs">unionizing</tspan></text>
<text x="519.51" y="500.2" font-size="15.6" fill="#231f20" font-weight="bold" textLength="50.85" lengthAdjust="spacingAndGlyphs">112,933</text>
<text x="573.77" y="500.2" font-size="16.2" fill="#231f20" textLength="54.43" lengthAdjust="spacingAndGlyphs">(34.8%)</text>
<text y="517.7" font-size="16.2" fill="#231f20"><tspan x="514.87" textLength="72.88" lengthAdjust="spacingAndGlyphs">MAJORITY</tspan> <tspan x="592.51" textLength="13.04" lengthAdjust="spacingAndGlyphs">of</tspan> <tspan x="611.00" textLength="21.63" lengthAdjust="spacingAndGlyphs">the</tspan></text>
<text y="535.1" font-size="16.2" fill="#231f20"><tspan x="515.43" textLength="44.57" lengthAdjust="spacingAndGlyphs">overall</tspan> <tspan x="564.64" textLength="67.79" lengthAdjust="spacingAndGlyphs">workforce</tspan></text>
<text y="552.8" font-size="16.2" fill="#231f20"><tspan x="515.90" textLength="36.95" lengthAdjust="spacingAndGlyphs">voted</tspan> <tspan x="557.60" textLength="14.08" lengthAdjust="spacingAndGlyphs">to</tspan> <tspan x="575.43" textLength="57.59" lengthAdjust="spacingAndGlyphs">unionize</tspan></text>
<text x="666.08" y="500.2" font-size="15.6" fill="#231f20" font-weight="bold" textLength="50.53" lengthAdjust="spacingAndGlyphs">60,305</text>
<text x="720.66" y="499.9" font-size="16.2" fill="#231f20" stroke="#231f20" stroke-width="0.7" textLength="51.35" lengthAdjust="spacingAndGlyphs">(19.7%)</text>
<text y="517.4" font-size="16.2" fill="#231f20" stroke="#231f20" stroke-width="0.7"><tspan x="661.23" textLength="69.97" lengthAdjust="spacingAndGlyphs">MINORITY</tspan> <tspan x="736.90" textLength="12.10" lengthAdjust="spacingAndGlyphs">of</tspan> <tspan x="755.35" textLength="21.73" lengthAdjust="spacingAndGlyphs">the</tspan></text>
<text y="534.8" font-size="16.2" fill="#231f20" stroke="#231f20" stroke-width="0.7"><tspan x="659.37" textLength="45.29" lengthAdjust="spacingAndGlyphs">overall</tspan> <tspan x="710.60" textLength="68.29" lengthAdjust="spacingAndGlyphs">workforce</tspan></text>
<text y="552.5" font-size="16.2" fill="#231f20" stroke="#231f20" stroke-width="0.7"><tspan x="659.85" textLength="37.66" lengthAdjust="spacingAndGlyphs">voted</tspan> <tspan x="703.35" textLength="12.93" lengthAdjust="spacingAndGlyphs">to</tspan> <tspan x="720.78" textLength="58.11" lengthAdjust="spacingAndGlyphs">unionize</tspan></text>
<text y="536.3" font-size="13.3" fill="#636466"><tspan x="73.05" textLength="6.89" lengthAdjust="spacingAndGlyphs">=</tspan> <tspan x="84.30" textLength="45.08" lengthAdjust="spacingAndGlyphs">Approx.</tspan> <tspan x="132.38" textLength="33.76" lengthAdjust="spacingAndGlyphs">5,000</tspan> <tspan x="171.10" textLength="44.50" lengthAdjust="spacingAndGlyphs">workers</tspan></text>
<text x="8.94" y="619.6" font-size="12.5" fill="#231f20" stroke="#231f20" stroke-width="0.6" textLength="60.10" lengthAdjust="spacingAndGlyphs">SOURCES:</text>
<text y="619.4" font-size="12.5" fill="#4a4b4d"><tspan x="72.02" textLength="47.49" lengthAdjust="spacingAndGlyphs">Heritage</tspan> <tspan x="123.41" textLength="63.30" lengthAdjust="spacingAndGlyphs">Foundation</tspan> <tspan x="190.62" textLength="43.76" lengthAdjust="spacingAndGlyphs">analysis</tspan> <tspan x="238.01" textLength="20.68" lengthAdjust="spacingAndGlyphs">and</tspan> <tspan x="262.00" textLength="46.84" lengthAdjust="spacingAndGlyphs">National</tspan> <tspan x="312.05" textLength="31.01" lengthAdjust="spacingAndGlyphs">Labor</tspan> <tspan x="347.68" textLength="49.29" lengthAdjust="spacingAndGlyphs">Relations</tspan> <tspan x="401.48" textLength="38.50" lengthAdjust="spacingAndGlyphs">Board,</tspan> <tspan x="443.05" textLength="43.23" lengthAdjust="spacingAndGlyphs">Election</tspan> <tspan x="491.07" textLength="44.81" lengthAdjust="spacingAndGlyphs">Reports,</tspan> <tspan x="539.68" textLength="15.05" lengthAdjust="spacingAndGlyphs">FY</tspan> <tspan x="559.46" textLength="61.00" lengthAdjust="spacingAndGlyphs">2012–2015,</tspan></text>
<text y="637.0" font-size="12.5" fill="#4a4b4d"><tspan x="8.29" textLength="31.57" lengthAdjust="spacingAndGlyphs">https:</tspan><tspan x="39.90" textLength="92.05" lengthAdjust="spacingAndGlyphs">//www.nlrb.gov/</tspan><tspan x="131.58" textLength="101.97" lengthAdjust="spacingAndGlyphs">reports-guidance/</tspan><tspan x="233.16" textLength="45.80" lengthAdjust="spacingAndGlyphs">reports/</tspan><tspan x="279.00" textLength="88.40" lengthAdjust="spacingAndGlyphs">election-reports</tspan> <tspan x="371.84" textLength="54.84" lengthAdjust="spacingAndGlyphs">(accessed</tspan> <tspan x="431.00" textLength="26.27" lengthAdjust="spacingAndGlyphs">April</tspan> <tspan x="459.86" textLength="16.00" lengthAdjust="spacingAndGlyphs">22,</tspan> <tspan x="479.04" textLength="34.05" lengthAdjust="spacingAndGlyphs">2016).</tspan></text>
<text y="678.4" font-size="13.7" fill="#4a4b4d"><tspan x="680.41" textLength="18.23" lengthAdjust="spacingAndGlyphs">BG</tspan> <tspan x="701.35" textLength="25.11" lengthAdjust="spacingAndGlyphs">3126</tspan></text>
<text x="745.48" y="678.4" font-size="13.7" fill="#4a4b4d" textLength="70.26" lengthAdjust="spacingAndGlyphs">heritage.org</text>
</svg>
</body>
</html>
